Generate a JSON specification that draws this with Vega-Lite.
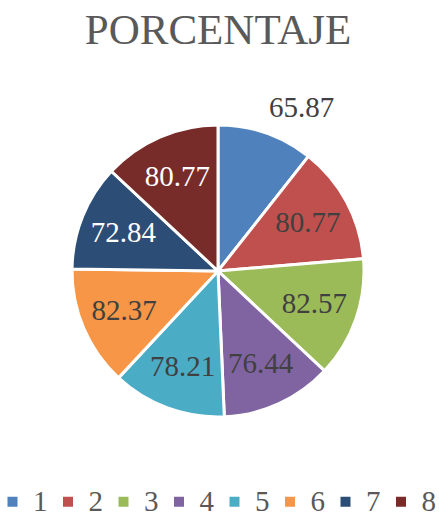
{
  "$schema": "https://vega.github.io/schema/vega-lite/v6.json",
  "autosize": "none",
  "width": 436,
  "height": 422,
  "padding": {"top": 60, "left": 0, "right": 3, "bottom": 36},
  "background": "white",
  "title": {
    "text": "PORCENTAJE",
    "font": "Liberation Serif",
    "fontSize": 43,
    "fontWeight": "normal",
    "color": "#595959",
    "anchor": "middle",
    "baseline": "alphabetic",
    "offset": -27
  },
  "data": {
    "values": [
      {"cat": "1", "pct": 65.87},
      {"cat": "2", "pct": 80.77},
      {"cat": "3", "pct": 82.57},
      {"cat": "4", "pct": 76.44},
      {"cat": "5", "pct": 78.21},
      {"cat": "6", "pct": 82.37},
      {"cat": "7", "pct": 72.84},
      {"cat": "8", "pct": 80.77}
    ]
  },
  "encoding": {
    "theta": {"field": "pct", "type": "quantitative", "stack": true},
    "order": {"field": "cat", "type": "ordinal"},
    "color": {
      "field": "cat",
      "type": "nominal",
      "scale": {
        "domain": ["1", "2", "3", "4", "5", "6", "7", "8"],
        "range": ["#4F81BD", "#C0504D", "#9BBB59", "#8064A2", "#4BACC6", "#F79646", "#2C4D75", "#772C2A"]
      },
      "legend": {
        "orient": "none",
        "legendX": -2,
        "legendY": 427,
        "direction": "horizontal",
        "title": null,
        "symbolType": "square",
        "symbolSize": 100,
        "symbolStrokeWidth": 0,
        "labelFont": "Liberation Serif",
        "labelFontSize": 29,
        "labelColor": "#595959",
        "labelOffset": 6,
        "columnPadding": 5.5
      }
    }
  },
  "layer": [
    {
      "mark": {"type": "arc", "outerRadius": 146, "stroke": "white", "strokeWidth": 3}
    },
    {
      "mark": {"type": "text", "radius": 102, "font": "Liberation Serif", "fontSize": 29},
      "encoding": {
        "text": {
          "condition": {"test": "datum.cat === '1'", "value": ""},
          "field": "pct",
          "type": "quantitative",
          "format": ".2f"
        },
        "color": {
          "condition": {"test": "datum.cat === '7' || datum.cat === '8'", "value": "white"},
          "value": "#404040"
        }
      }
    },
    {
      "mark": {"type": "text", "radius": 173, "dx": 27, "font": "Liberation Serif", "fontSize": 29},
      "encoding": {
        "text": {
          "condition": {"test": "datum.cat !== '1'", "value": ""},
          "field": "pct",
          "type": "quantitative",
          "format": ".2f"
        },
        "color": {"value": "#404040"}
      }
    }
  ]
}
